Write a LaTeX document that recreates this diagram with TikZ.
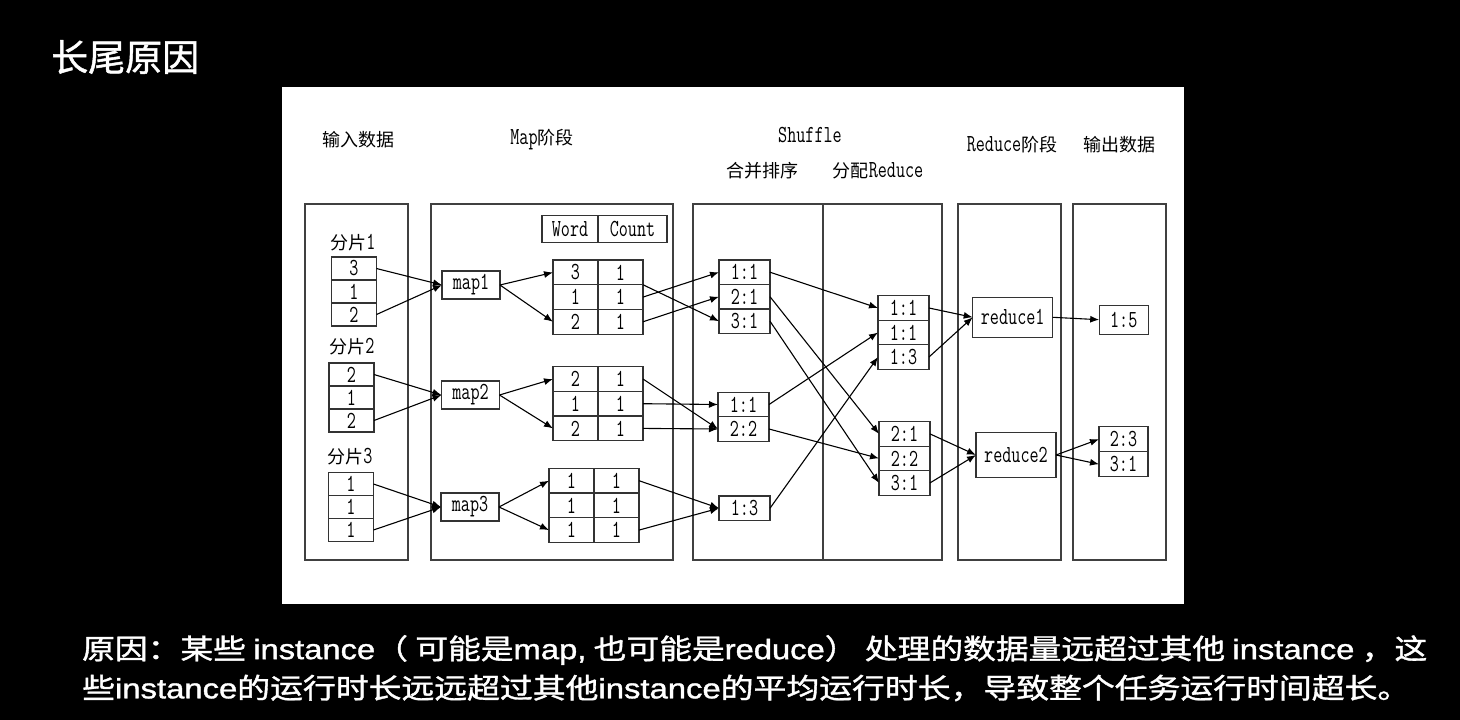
\documentclass[tikz,border=0pt]{standalone}
\usepackage{fontspec}
\usepackage{graphicx}
\newfontfamily\cjk{Noto Sans CJK SC}
\newfontfamily\cjkb[FakeBold=1.2]{Noto Sans CJK SC}
\newfontfamily\arial[FakeBold=1.2]{Liberation Sans}
\newcommand{\nt}[1]{\scalebox{0.72}[1]{\ttfamily\fontsize{24.5}{24.5}\selectfont #1}}
\newcommand{\zh}[1]{{\cjk\fontsize{18}{18}\selectfont #1}}
\usetikzlibrary{arrows.meta,positioning}

\begin{document}
\begin{tikzpicture}[
  x=1pt, y=-1pt,
  panel/.style={draw=black!75, line width=1.3pt},
  cell/.style={draw=black!80, line width=1.3pt, inner sep=0pt, outer sep=0pt, minimum width=45pt, minimum height=23pt},
  tcell/.style={cell, minimum height=24.7pt},
  kv/.style={cell, minimum width=51pt, minimum height=24.5pt},
  mapbox/.style={cell, minimum width=58pt, minimum height=28pt},
  redbox/.style={cell, minimum width=80pt},
  hd/.style={inner sep=0pt},
  arr/.style={-{Latex[length=9pt, width=7pt]}, line width=1.1pt},
]
\useasboundingbox (0,0) rectangle (1460,720);
\fill[black] (0,0) rectangle (1460,720);
\fill[white] (282,87) rectangle (1184,604);

% --- slide title and note ---------------------------------------------------
\node[anchor=west, inner sep=0pt, text=white, font=\cjkb\fontsize{37}{37}\selectfont] (title) at (51,57) {长尾原因};
\node[anchor=west, inner sep=0pt, text=white] (why1) at (82,650) {\resizebox{1345pt}{\height}{\cjkb\fontsize{28}{28}\selectfont 原因：某些 {\arial instance}（ 可能是{\arial map,} 也可能是{\arial reduce}） 处理的数据量远超过其他 {\arial instance} ，这}};
\node[anchor=west, inner sep=0pt, text=white] (why2) at (82,688) {\resizebox{1328pt}{\height}{\cjkb\fontsize{28}{28}\selectfont 些{\arial instance}的运行时长远远超过其他{\arial instance}的平均运行时长，导致整个任务运行时间超长。}};

% --- stage headings ---------------------------------------------------------
\node[hd] (hin) at (358,140) {\zh{输入数据}};
\node[hd] (hmap) at (542,140) {\nt{Map}\zh{阶段}};
\node[hd] (hshuf) at (810,135) {\nt{Shuffle}};
\node[hd] (hmerge) at (762,171) {\zh{合并排序}};
\node[hd] (hdist) at (878,171) {\zh{分配}\nt{Reduce}};
\node[hd] (hred) at (1012,145) {\nt{Reduce}\zh{阶段}};
\node[hd] (hout) at (1119,145) {\zh{输出数据}};

% --- stage panels -----------------------------------------------------------
\draw[panel] (305,204) rectangle (408,560);
\draw[panel] (431,204) rectangle (673,560);
\draw[panel] (693,204) rectangle (942,560);
\draw[panel] (823,204) -- (823,560);
\draw[panel] (958,204) rectangle (1061,560);
\draw[panel] (1073,204) rectangle (1166,560);

% --- input splits -----------------------------------------------------------
\node[hd] (lab1) at (353,243) {\zh{分片}\nt{1}};
\node[cell] (s1a) at (354,268.5) {\nt{3}};
\node[cell, below=0pt of s1a] (s1b) {\nt{1}};
\node[cell, below=0pt of s1b] (s1c) {\nt{2}};
\node[hd] (lab2) at (352,347) {\zh{分片}\nt{2}};
\node[cell] (s2a) at (351.5,374.5) {\nt{2}};
\node[cell, below=0pt of s2a] (s2b) {\nt{1}};
\node[cell, below=0pt of s2b] (s2c) {\nt{2}};
\node[hd] (lab3) at (350,457) {\zh{分片}\nt{3}};
\node[cell] (s3a) at (351,484) {\nt{1}};
\node[cell, below=0pt of s3a] (s3b) {\nt{1}};
\node[cell, below=0pt of s3b] (s3c) {\nt{1}};

% --- map tasks and their word/count tables ----------------------------------
\node[mapbox] (map1) at (471,285) {\nt{map1}};
\node[mapbox] (map2) at (470.5,395) {\nt{map2}};
\node[mapbox] (map3) at (470,507) {\nt{map3}};
\node[cell, minimum width=56pt, minimum height=27pt] (word) at (570,229) {\nt{Word}};
\node[cell, minimum width=69pt, minimum height=27pt, right=0pt of word] (count) {\nt{Count}};
\foreach \t/\x/\y/\ka/\kb/\kc in {1/575.5/272.4/3/1/2, 2/575.5/379/2/1/2, 3/571.5/480.7/1/1/1}{
  \node[tcell] (t\t-k1) at (\x,\y) {\nt{\ka}};
  \node[tcell, below=0pt of t\t-k1] (t\t-k2) {\nt{\kb}};
  \node[tcell, below=0pt of t\t-k2] (t\t-k3) {\nt{\kc}};
  \foreach \r in {1,2,3}
    \node[tcell, right=0pt of t\t-k\r] (t\t-v\r) {\nt{1}};
}

% --- shuffle: merge and sort ------------------------------------------------
\node[kv] (ma1) at (744.5,272.2) {\nt{1:1}};
\node[kv, below=0pt of ma1] (ma2) {\nt{2:1}};
\node[kv, below=0pt of ma2] (ma3) {\nt{3:1}};
\node[kv] (mb1) at (743.5,404.5) {\nt{1:1}};
\node[kv, below=0pt of mb1] (mb2) {\nt{2:2}};
\node[kv] (mc1) at (744.5,508.2) {\nt{1:3}};

% --- shuffle: hand out to reducers ------------------------------------------
\node[kv] (ra1) at (903.5,308) {\nt{1:1}};
\node[kv, below=0pt of ra1] (ra2) {\nt{1:1}};
\node[kv, below=0pt of ra2] (ra3) {\nt{1:3}};
\node[kv] (rb1) at (904.5,433.9) {\nt{2:1}};
\node[kv, below=0pt of rb1] (rb2) {\nt{2:2}};
\node[kv, below=0pt of rb2] (rb3) {\nt{3:1}};

% --- reduce and output ------------------------------------------------------
\node[redbox, minimum height=40pt] (red1) at (1012.7,317.3) {\nt{reduce1}};
\node[redbox, minimum height=44.5pt] (red2) at (1016,455) {\nt{reduce2}};
\node[cell, minimum width=49pt, minimum height=29pt] (o1) at (1123.7,319.7) {\nt{1:5}};
\node[cell, minimum width=49pt, minimum height=25pt] (o2) at (1123.5,439.2) {\nt{2:3}};
\node[cell, minimum width=49pt, minimum height=25pt, below=0pt of o2] (o3) {\nt{3:1}};

% --- arrows -----------------------------------------------------------------
\draw[arr] (s1a.east) -- (map1.west);
\draw[arr] (s1c.east) -- (map1.west);
\draw[arr] (s2a.east) -- (map2.west);
\draw[arr] (s2c.east) -- (map2.west);
\draw[arr] (s3a.east) -- (map3.west);
\draw[arr] (s3c.east) -- (map3.west);
\draw[arr] (map1.east) -- (t1-k1.west);
\draw[arr] (map1.east) -- (t1-k3.west);
\draw[arr] (map2.east) -- (t2-k1.west);
\draw[arr] (map2.east) -- (t2-k3.west);
\draw[arr] (map3.east) -- (t3-k1.west);
\draw[arr] (map3.east) -- (t3-k3.west);
\draw[arr] (t1-v1.south east) -- (ma3.west);
\draw[arr] (t1-v2.east) -- (ma1.west);
\draw[arr] (t1-v3.east) -- (ma2.west);
\draw[arr] (t2-v1.east) -- (mb2.west);
\draw[arr] (t2-v2.east) -- (mb1.west);
\draw[arr] (t2-v3.east) -- (mb2.west);
\draw[arr] (t3-v1.east) -- (mc1.west);
\draw[arr] (t3-v3.east) -- (mc1.west);
\draw[arr] (ma1.east) -- (ra1.west);
\draw[arr] (ma2.east) -- (rb1.west);
\draw[arr] (ma3.east) -- (rb3.west);
\draw[arr] (mb1.east) -- (ra2.west);
\draw[arr] (mb2.east) -- (rb2.west);
\draw[arr] (mc1.east) -- (ra3.west);
\draw[arr] (ra1.east) -- (red1.west);
\draw[arr] (ra3.east) -- (red1.west);
\draw[arr] (rb1.east) -- (red2.west);
\draw[arr] (rb3.east) -- (red2.west);
\draw[arr] (red1.east) -- (o1.west);
\draw[arr] (red2.east) -- (o2.west);
\draw[arr] (red2.east) -- (o3.west);
\end{tikzpicture}
\end{document}
